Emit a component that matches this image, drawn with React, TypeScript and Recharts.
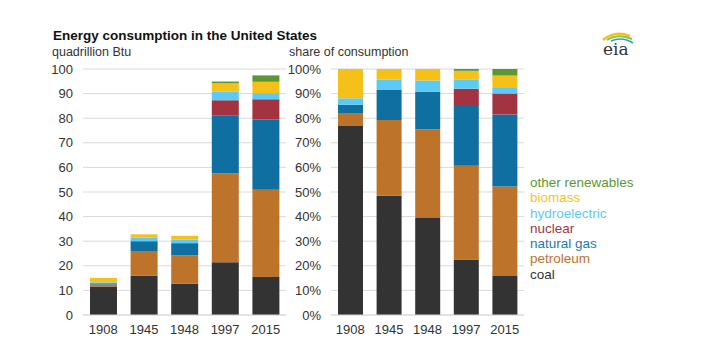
import { BarChart, Bar, XAxis, YAxis, CartesianGrid } from 'recharts';

const years = ['1908', '1945', '1948', '1997', '2015'];
const coal = [11.6, 15.9, 12.7, 21.4, 15.4];
const petroleum = [0.8, 10.1, 11.6, 36.2, 35.5];
const naturalGas = [0.5, 4.0, 4.9, 23.4, 28.5];
const nuclear = [0, 0, 0, 6.3, 8.3];
const hydroelectric = [0.4, 1.4, 1.5, 3.6, 2.5];
const biomass = [1.8, 1.4, 1.5, 3.3, 4.6];
const otherRenewables = [0, 0, 0, 0.7, 2.6];

const quadTicks = [0, 10, 20, 30, 40, 50, 60, 70, 80, 90, 100];
const shareTicks = [0, 0.1, 0.2, 0.3, 0.4, 0.5, 0.6, 0.7, 0.8, 0.9, 1];

const SERIES = [
  { key: 'coal', name: 'coal', color: '#333333', text: '#333333' },
  { key: 'petroleum', name: 'petroleum', color: '#bd732a', text: '#bd732a' },
  { key: 'naturalGas', name: 'natural gas', color: '#0f6fa0', text: '#1f7aab' },
  { key: 'nuclear', name: 'nuclear', color: '#a33340', text: '#a33340' },
  { key: 'hydroelectric', name: 'hydroelectric', color: '#5bcbf5', text: '#5bcbf5' },
  { key: 'biomass', name: 'biomass', color: '#f5c018', text: '#f5c32a' },
  { key: 'otherRenewables', name: 'other renewables', color: '#5d9732', text: '#5d9732' },
];

const data = years.map((year, i) => ({
  year,
  coal: coal[i],
  petroleum: petroleum[i],
  naturalGas: naturalGas[i],
  nuclear: nuclear[i],
  hydroelectric: hydroelectric[i],
  biomass: biomass[i],
  otherRenewables: otherRenewables[i],
}));

const FONT = 'Arial, "Liberation Sans", sans-serif';
const tickStyle = { fontSize: 13, fill: '#333', fontFamily: FONT };

function Bars({ size }: { size: number }) {
  return (
    <>
      {SERIES.map((s) => (
        <Bar
          key={s.key}
          dataKey={s.key}
          name={s.name}
          stackId="a"
          fill={s.color}
          barSize={size}
          isAnimationActive={false}
        />
      ))}
    </>
  );
}

export default function App() {
  return (
    <div
      style={{
        position: 'fixed',
        left: 0,
        top: 0,
        width: 702,
        height: 358,
        background: '#fff',
        fontFamily: FONT,
        color: '#333',
      }}
    >
      <div style={{ position: 'absolute', left: 53, top: 28, fontSize: 13.5, fontWeight: 'bold', color: '#111', whiteSpace: 'nowrap' }}>
        Energy consumption in the United States
      </div>
      <div style={{ position: 'absolute', left: 52, top: 45, fontSize: 12.5, whiteSpace: 'nowrap' }}>quadrillion Btu</div>
      <div style={{ position: 'absolute', left: 289, top: 45, fontSize: 12.5, whiteSpace: 'nowrap' }}>share of consumption</div>

      <div style={{ position: 'absolute', left: 0, top: 0 }}>
        <BarChart width={300} height={358} data={data} margin={{ top: 69, right: 14, bottom: 13, left: 0 }}>
          <CartesianGrid vertical={false} stroke="#d9d9d9" />
          <XAxis
            dataKey="year"
            height={30}
            tick={tickStyle}
            tickLine={false}
            axisLine={{ stroke: '#d9d9d9' }}
            tickSize={0}
            tickMargin={10}
            interval={0}
          />
          <YAxis
            width={83}
            domain={[0, 100]}
            ticks={quadTicks}
            tick={tickStyle}
            tickLine={false}
            axisLine={false}
            tickSize={0}
            tickMargin={10}
            interval={0}
          />
          {Bars({ size: 27 })}
        </BarChart>
      </div>

      <div style={{ position: 'absolute', left: 240, top: 0 }}>
        <BarChart
          width={300}
          height={358}
          data={data}
          stackOffset="expand"
          margin={{ top: 69, right: 16, bottom: 13, left: 0 }}
        >
          <CartesianGrid vertical={false} stroke="#d9d9d9" />
          <XAxis
            dataKey="year"
            height={30}
            tick={tickStyle}
            tickLine={false}
            axisLine={{ stroke: '#d9d9d9' }}
            tickSize={0}
            tickMargin={10}
            interval={0}
          />
          <YAxis
            width={91}
            domain={[0, 1]}
            ticks={shareTicks}
            tickFormatter={(v: number) => `${Math.round(v * 100)}%`}
            tick={tickStyle}
            tickLine={false}
            axisLine={false}
            tickSize={0}
            tickMargin={10}
            interval={0}
          />
          {Bars({ size: 25 })}
        </BarChart>
      </div>

      <div style={{ position: 'absolute', left: 530, top: 175, fontSize: 13.5, lineHeight: '15.3px', whiteSpace: 'nowrap' }}>
        {[...SERIES].reverse().map((s) => (
          <div key={s.key} style={{ color: s.text }}>
            {s.name}
          </div>
        ))}
      </div>

      <svg style={{ position: 'absolute', left: 598, top: 28 }} width={40} height={30}>
        <path d="M5 12 Q17 2 32 8" stroke="#f5c018" strokeWidth={2.5} fill="none" />
        <path d="M9 12 Q20 5 34 11" stroke="#8cc63f" strokeWidth={2} fill="none" />
        <path d="M13 13 Q24 8 35 15" stroke="#2a9fd6" strokeWidth={1.5} fill="none" />
        <text x={5} y={27} fontSize={17} fontFamily="'DejaVu Serif', serif" fill="#333">
          eia
        </text>
      </svg>
    </div>
  );
}
